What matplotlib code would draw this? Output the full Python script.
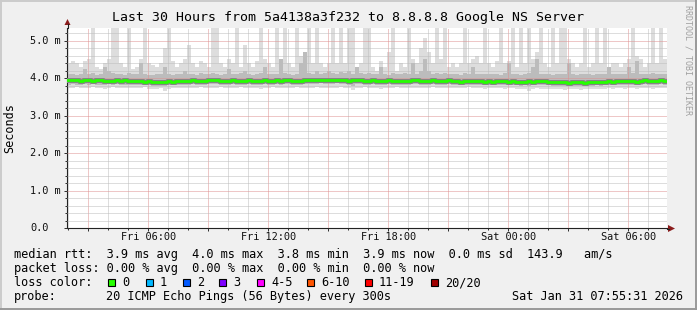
import matplotlib
matplotlib.use("Agg")
import matplotlib.pyplot as plt
import matplotlib.dates as mdates
from matplotlib.patches import Rectangle, Polygon
from matplotlib.lines import Line2D
from matplotlib.ticker import MultipleLocator, NullFormatter
import numpy as np
import pandas as pd

W, H = 697, 310
MONO = "DejaVu Sans Mono"

TITLE = "Last 30 Hours from 5a4138a3f232 to 8.8.8.8 Google NS Server"
START = "2026-01-30 01:55:31"
STEP = "12min"

# smoke / median values, in 1/100 ms, one per 12 minute step
MEDIAN = [394, 395, 394, 393, 394, 395, 393, 394, 394, 393, 392, 393, 394, 393, 394,
          393, 392, 392, 393, 391, 392, 390, 389, 390, 391, 392, 391, 392, 393, 392,
          393, 394, 393, 392, 393, 394, 395, 394, 393, 392, 393, 394, 393, 392, 393,
          394, 393, 392, 393, 394, 393, 392, 394, 393, 394, 395, 393, 392, 393, 394,
          395, 394, 395, 396, 395, 394, 395, 396, 395, 394, 393, 394, 395, 394, 393,
          393, 394, 393, 392, 393, 394, 393, 392, 393, 392, 393, 395, 394, 393, 392,
          393, 394, 393, 392, 393, 394, 393, 392, 391, 392, 393, 392, 393, 392, 391,
          392, 391, 392, 393, 392, 391, 392, 391, 390, 391, 392, 391, 392, 393, 392,
          391, 390, 389, 390, 389, 388, 389, 390, 389, 388, 389, 390, 391, 390, 391,
          392, 391, 392, 393, 392, 393, 392, 391, 393, 394, 393, 392, 393, 394, 393]

LO_ALL = [375, 374, 376, 375, 373, 374, 376, 375, 374, 372, 375, 376, 374, 375, 373,
          374, 375, 373, 374, 376, 372, 371, 370, 373, 365, 372, 374, 375, 373, 374,
          375, 373, 374, 376, 375, 374, 373, 375, 376, 374, 373, 375, 374, 376, 375,
          374, 375, 373, 372, 374, 375, 376, 374, 375, 373, 374, 375, 376, 374, 373,
          375, 374, 376, 375, 374, 373, 375, 374, 376, 375, 373, 368, 374, 375, 376,
          374, 375, 373, 372, 374, 375, 374, 376, 375, 374, 373, 375, 374, 373, 375,
          374, 376, 375, 373, 374, 375, 374, 373, 375, 374, 376, 375, 373, 374, 372,
          373, 374, 375, 373, 372, 374, 373, 372, 370, 371, 366, 372, 373, 371, 372,
          371, 372, 370, 371, 369, 370, 371, 370, 368, 370, 371, 372, 370, 371, 372,
          373, 372, 374, 373, 372, 374, 373, 372, 373, 374, 373, 372, 374, 373, 374]

LO_MID = [383, 384, 383, 382, 384, 383, 384, 383, 382, 383, 384, 383, 384, 383, 382,
          383, 382, 383, 381, 382, 381, 380, 379, 380, 378, 381, 382, 383, 382, 383,
          383, 384, 383, 382, 383, 384, 385, 384, 383, 382, 383, 384, 383, 382, 383,
          384, 383, 382, 383, 384, 383, 382, 384, 383, 384, 385, 383, 382, 383, 384,
          385, 384, 385, 386, 385, 384, 385, 386, 385, 384, 383, 380, 385, 384, 383,
          383, 384, 383, 382, 383, 384, 383, 382, 383, 382, 383, 385, 384, 383, 382,
          383, 384, 383, 382, 383, 384, 383, 382, 381, 382, 383, 382, 383, 382, 381,
          382, 381, 382, 383, 382, 381, 382, 381, 380, 381, 378, 381, 382, 381, 382,
          381, 380, 379, 380, 379, 378, 379, 380, 378, 378, 379, 380, 381, 380, 381,
          382, 381, 382, 383, 382, 383, 382, 381, 383, 384, 383, 382, 383, 384, 383]

HI_MID = [410, 412, 408, 411, 425, 412, 415, 409, 411, 430, 420, 414, 410, 412, 409,
          413, 410, 411, 440, 412, 409, 408, 410, 411, 430, 412, 409, 411, 410, 420,
          412, 410, 409, 413, 411, 410, 415, 412, 409, 411, 425, 412, 410, 413, 418,
          411, 409, 412, 414, 430, 411, 410, 412, 450, 413, 411, 409, 412, 440, 470,
          415, 412, 418, 411, 413, 420, 415, 412, 416, 414, 418, 412, 430, 413, 412,
          414, 410, 412, 430, 411, 409, 413, 410, 412, 414, 411, 440, 412, 418, 450,
          420, 412, 414, 411, 413, 410, 412, 411, 409, 413, 410, 430, 412, 411, 410,
          412, 410, 411, 409, 413, 440, 411, 410, 409, 412, 413, 430, 450, 411, 412,
          410, 409, 412, 411, 410, 440, 412, 409, 411, 410, 412, 409, 411, 410, 412,
          430, 411, 410, 412, 411, 430, 413, 445, 411, 410, 412, 414, 411, 412, 410]

HI_ALL = [440, 445, 440, 430, 445, 450, 540, 430, 425, 440, 450, 540, 540, 440, 430,
          540, 425, 430, 450, 540, 440, 435, 430, 440, 480, 540, 445, 430, 440, 450,
          488, 440, 430, 445, 440, 430, 540, 540, 440, 430, 450, 440, 540, 430, 488,
          440, 430, 445, 540, 450, 440, 430, 540, 450, 540, 440, 430, 540, 460, 450,
          540, 440, 540, 440, 430, 440, 540, 440, 540, 440, 540, 540, 430, 440, 540,
          540, 430, 420, 445, 430, 470, 540, 420, 440, 430, 540, 450, 440, 480, 507,
          470, 440, 540, 450, 540, 430, 440, 430, 440, 540, 440, 450, 460, 440, 540,
          440, 430, 445, 540, 440, 445, 540, 430, 540, 440, 540, 450, 470, 540, 440,
          430, 540, 440, 540, 540, 450, 440, 430, 440, 540, 430, 440, 540, 440, 540,
          430, 440, 440, 430, 440, 450, 540, 460, 450, 430, 440, 540, 440, 540, 450]

Y_TICKS = [0, 1, 2, 3, 4, 5]
Y_MAX = 5.34

RTT_LINE = "median rtt:  3.9 ms avg  4.0 ms max  3.8 ms min  3.9 ms now  0.0 ms sd  143.9   am/s"
LOSS_LINE = "packet loss: 0.00 % avg  0.00 % max  0.00 % min  0.00 % now"
PROBE_TEXT = "20 ICMP Echo Pings (56 Bytes) every 300s"
STAMP = "Sat Jan 31 07:55:31 2026"

LOSS_LABELS = ["0", "1", "2", "3", "4-5", "6-10", "11-19", "20/20"]
LOSS_COLORS = ["#26ff00", "#00b8ff", "#0059ff", "#7e00ff", "#ff00ff",
               "#ff5500", "#ff0000", "#a00000"]
LOSS_BOX_X = [108, 146, 183, 219, 257, 307, 365, 431]


def fx(x):
    return x / W


def fy(y):
    return 1 - y / H


def ext(a):
    a = np.asarray(a, dtype=float) / 100.0
    return np.append(a, a[-1])


t = pd.date_range(START, periods=len(MEDIAN) + 1, freq=STEP)

fig = plt.figure(figsize=(W / 100, H / 100), dpi=100, facecolor="#f0f0f0")
ax = fig.add_axes([fx(67), fy(228), 600 / W, 200 / H])
ax.set_facecolor("white")

ax.fill_between(t, ext(LO_ALL), ext(HI_ALL), step="post", color="#dddddd", lw=0, zorder=1)
ax.fill_between(t, ext(LO_MID), ext(HI_MID), step="post", color="#bcbcbc", lw=0, zorder=1.5)
ax.step(t, ext(MEDIAN), where="post", color="#858585", lw=3.6, zorder=3)
ax.step(t, ext(MEDIAN), where="post", color=LOSS_COLORS[0], lw=2.0, zorder=3.5)

ax.set_xlim(t[0], t[-1])
ax.set_ylim(0, Y_MAX)

# grid: minor grey every hour / 0.2 m, major red every 3 h / 1.0 m
ax.xaxis.set_major_locator(mdates.HourLocator(byhour=range(0, 24, 3)))
ax.xaxis.set_minor_locator(mdates.HourLocator())
ax.yaxis.set_major_locator(MultipleLocator(1.0))
ax.yaxis.set_minor_locator(MultipleLocator(0.2))
ax.xaxis.set_major_formatter(NullFormatter())
ax.yaxis.set_major_formatter(NullFormatter())
ax.set_axisbelow(False)
ax.grid(which="minor", color="#bdbdbd", lw=0.72, ls=(0, (1, 1)), zorder=2.5)
ax.grid(which="major", color="#de9090", lw=0.72, ls=(0, (1, 1)), zorder=2.6)
ax.tick_params(which="both", direction="out", color="#333333", width=0.72)
ax.tick_params(which="major", length=2.2)
ax.tick_params(which="minor", length=1.4)

for s in ("top", "right"):
    ax.spines[s].set_visible(False)
for s in ("left", "bottom"):
    ax.spines[s].set_color("#222222")
    ax.spines[s].set_linewidth(0.8)

# axis extensions and arrows
fig.add_artist(Line2D([fx(67.5), fx(67.5)], [fy(28), fy(24)], color="#222222", lw=0.8))
fig.add_artist(Line2D([fx(667), fx(669)], [fy(228.5), fy(228.5)], color="#222222", lw=0.8))
fig.add_artist(Polygon([(fx(64.5), fy(25)), (fx(70.5), fy(25)), (fx(67.5), fy(19))],
                       closed=True, color="#8b1c1c", lw=0, transform=fig.transFigure))
fig.add_artist(Polygon([(fx(668), fy(225)), (fx(668), fy(232)), (fx(675), fy(228.5))],
                       closed=True, color="#8b1c1c", lw=0, transform=fig.transFigure))

# tick labels
lbl_x = (30 - 67) / 600
for v in Y_TICKS:
    ax.text(lbl_x, v, "0.0" if v == 0 else f"{v:.1f} m", transform=ax.get_yaxis_transform(),
            ha="left", va="center", fontsize=7.4, family=MONO, color="#111111")

end = t[-1]
for ts in pd.date_range(t[0].ceil("6h"), end, freq="6h"):
    ax.text(ts, -(237.5 - 228) / 200, ts.strftime("%a %H:%M"), transform=ax.get_xaxis_transform(),
            ha="center", va="center", fontsize=7.4, family=MONO, color="#111111")

fig.text(fx(348), fy(18), TITLE, ha="center", va="center", fontsize=9.5, family=MONO)
fig.text(fx(10), fy(128), "Seconds", ha="center", va="center", rotation=90,
         fontsize=8.5, family=MONO)
fig.text(fx(688), fy(60), "RRDTOOL / TOBI OETIKER", ha="center", va="center", rotation=270,
         fontsize=6, family=MONO, color="#a0a0a0")

# legend rows
fig.text(fx(14), fy(254.5), RTT_LINE, ha="left", va="center", fontsize=8.6, family=MONO)
fig.text(fx(14), fy(268.5), LOSS_LINE, ha="left", va="center", fontsize=8.6, family=MONO)
fig.text(fx(14), fy(282.5), "loss color:", ha="left", va="center", fontsize=8.6, family=MONO)
for bx, lab, col in zip(LOSS_BOX_X, LOSS_LABELS, LOSS_COLORS):
    fig.add_artist(Rectangle((fx(bx), fy(286)), 7 / W, 7.5 / H, facecolor=col,
                             edgecolor="black", lw=0.8, transform=fig.transFigure))
    fig.text(fx(bx + 14), fy(282.5), lab, ha="left", va="center", fontsize=8.6, family=MONO)
fig.text(fx(14), fy(296.5), "probe:", ha="left", va="center", fontsize=8.6, family=MONO)
fig.text(fx(106), fy(296.5), PROBE_TEXT, ha="left", va="center", fontsize=8.6, family=MONO)
fig.text(fx(512), fy(296.5), STAMP, ha="left", va="center", fontsize=8.6, family=MONO)

# 3D frame around the image
fig.add_artist(Line2D([0, 1], [fy(0.5), fy(0.5)], color="#cbcbcb", lw=1.4))
fig.add_artist(Line2D([fx(0.5), fx(0.5)], [0, 1], color="#cbcbcb", lw=1.4))
fig.add_artist(Line2D([0, 1], [fy(309), fy(309)], color="#999999", lw=1.4))
fig.add_artist(Line2D([fx(696), fx(696)], [0, 1], color="#999999", lw=1.4))

fig.savefig("out.png", dpi=100, facecolor=fig.get_facecolor())
